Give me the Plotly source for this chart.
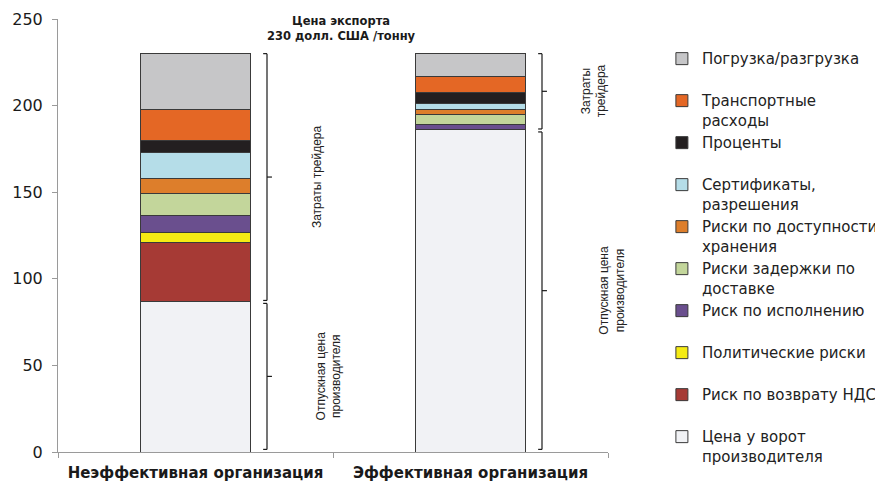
import plotly.graph_objects as go

categories = ["Неэффективная организация", "Эффективная организация"]

series_names = [
    "Цена у ворот<br>производителя",
    "Риск по возврату НДС",
    "Политические риски",
    "Риск по исполнению",
    "Риски задержки по<br>доставке",
    "Риски по доступности<br>хранения",
    "Сертификаты,<br>разрешения",
    "Проценты",
    "Транспортные<br>расходы",
    "Погрузка/разгрузка",
]
gate_price = [87, 186]
vat_risk = [34, 0]
political_risk = [6, 0]
performance_risk = [9.5, 3]
delivery_delay_risk = [12.5, 6]
storage_risk = [9, 3]
certificates = [15, 3]
interest = [7, 6.5]
transport = [18, 9.5]
handling = [32, 13]

series_values = [gate_price, vat_risk, political_risk, performance_risk,
                 delivery_delay_risk, storage_risk, certificates, interest,
                 transport, handling]
series_colors = ["#F1F2F5", "#A63A35", "#F5EB14", "#6A4F8E", "#C3D69B",
                 "#DD7E2B", "#B5DDE8", "#231F20", "#E46725", "#C6C6C8"]

y_ticks = [0, 50, 100, 150, 200, 250]
export_note = "Цена экспорта<br>230 долл. США /тонну"
trader_labels = ["Затраты трейдера", "Затраты<br>трейдера"]
producer_label = "Отпускная цена<br>производителя"

fig = go.Figure()
for name, vals, col in zip(series_names, series_values, series_colors):
    label = name if "<br>" in name else name + "<br> "
    fig.add_trace(go.Bar(
        x=categories, y=vals, name=label,
        marker=dict(color=col, line=dict(color="#3a3a3a", width=1)),
        width=0.4,
    ))

totals = [sum(s[i] for s in series_values) for i in range(len(categories))]

shapes = []
annotations = []
bx_off = 0.26
stub = 0.014
tick = 0.018
lc = dict(color="#1a1a1a", width=1.2)
for i in range(len(categories)):
    bx = i + bx_off
    segs = [(1.5, gate_price[i] - 1.2), (gate_price[i] + 0.5, totals[i])]
    for (y0, y1) in segs:
        shapes.append(dict(type="line", xref="x", yref="y", x0=bx, x1=bx, y0=y0, y1=y1, line=lc))
        shapes.append(dict(type="line", xref="x", yref="y", x0=bx - stub, x1=bx, y0=y0, y1=y0, line=lc))
        shapes.append(dict(type="line", xref="x", yref="y", x0=bx - stub, x1=bx, y0=y1, y1=y1, line=lc))
        ym = (y0 + y1) / 2
        shapes.append(dict(type="line", xref="x", yref="y", x0=bx, x1=bx + tick, y0=ym, y1=ym, line=lc))
    lower_mid = (segs[0][0] + segs[0][1]) / 2
    upper_mid = (segs[1][0] + segs[1][1]) / 2
    annotations.append(dict(
        x=bx, y=upper_mid, xref="x", yref="y", text=trader_labels[i],
        textangle=-90, showarrow=False, xshift=50 if i == 0 else 52,
        font=dict(family="Liberation Sans Narrow, Arial Narrow, Liberation Sans", size=12, color="#222"),
    ))
    annotations.append(dict(
        x=bx, y=lower_mid, xref="x", yref="y", text=producer_label,
        textangle=-90, showarrow=False, xshift=62 if i == 0 else 70,
        font=dict(family="Liberation Sans Narrow, Arial Narrow, Liberation Sans", size=12, color="#222"),
    ))

annotations.append(dict(
    x=0.5, y=250, xref="x", yref="y", text=export_note, showarrow=False,
    xshift=8, yshift=-9, yanchor="middle",
    font=dict(family="DejaVu Sans", size=11.5, color="#1a1a1a", weight="bold"),
))

fig.update_layout(
    barmode="stack",
    width=875, height=475,
    margin=dict(l=50, r=275, t=11, b=31, autoexpand=False),
    plot_bgcolor="white", paper_bgcolor="white",
    showlegend=True,
    legend=dict(
        traceorder="reversed", x=1.098, xanchor="left", y=0.946, yanchor="top",
        valign="top", font=dict(family="DejaVu Sans", size=15, color="#222"),
        itemwidth=30, tracegroupgap=0, bgcolor="rgba(0,0,0,0)",
    ),
    shapes=shapes,
    annotations=annotations,
    bargap=0.6,
)
fig.update_xaxes(
    range=[-0.5, 1.5], showline=True, linecolor="#9a9a9a", linewidth=1,
    ticks="outside", tickson="boundaries", ticklen=5, tickcolor="#9a9a9a",
    ticklabelstandoff=7,
    tickfont=dict(family="DejaVu Sans", size=15, color="#1a1a1a", weight="bold"),
    showgrid=False, zeroline=False,
)
fig.update_yaxes(
    range=[0, 250], tickvals=y_ticks, showline=True, linecolor="#9a9a9a", linewidth=1,
    ticks="outside", ticklen=5, tickcolor="#9a9a9a", ticklabelstandoff=6,
    tickfont=dict(family="DejaVu Sans", size=16, color="#1a1a1a"),
    showgrid=False, zeroline=False,
)
fig.write_html("out.html")
